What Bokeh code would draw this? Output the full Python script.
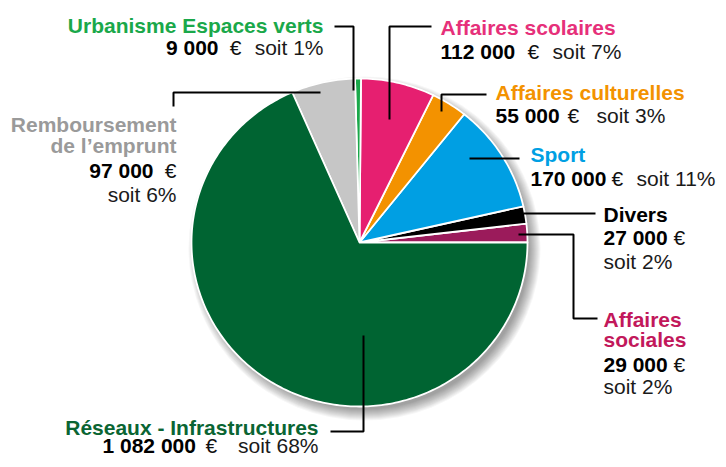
import numpy as np
from bokeh.plotting import figure
from bokeh.models import Range1d
from bokeh.core.properties import value
from bokeh.embed import file_html
from bokeh.resources import INLINE

# ---- data (counter-clockwise from 3 o'clock) ----
categories = ["Affaires sociales", "Divers", "Sport", "Affaires culturelles",
              "Affaires scolaires", "Urbanisme Espaces verts",
              "Remboursement de l’emprunt", "Réseaux - Infrastructures"]
amounts = [29000, 27000, 170000, 55000, 112000, 9000, 97000, 1082000]
shares = [2, 2, 11, 3, 7, 1, 6, 68]
slice_colors = ["#9b1b5b", "#000000", "#009fe3", "#f39200",
                "#e61f70", "#1aa84a", "#c6c6c6", "#006432"]
label_colors = ["#c2185b", "#000000", "#009fe3", "#f39200",
                "#e6307a", "#1aa84a", "#9a9a9a", "#0a6533"]
title_lines = [["Affaires", "sociales"], ["Divers"], ["Sport"], ["Affaires culturelles"],
               ["Affaires scolaires"], ["Urbanisme Espaces verts"],
               ["Remboursement", "de l’emprunt"], ["Réseaux - Infrastructures"]]

# ---- figure: data x = picture px, data y = H - picture py ----
W, H = 718, 459
p = figure(width=W, height=H, output_backend="svg", toolbar_location=None,
           x_range=Range1d(0, W), y_range=Range1d(0, H), min_border=0)
p.axis.visible = False
p.grid.visible = False
p.outline_line_color = None
p.background_fill_color = "white"


def Y(py):
    return H - py


cx, cy, rx, ry = 359, Y(242), 168, 164

# soft shadow
ks = np.arange(-3, 9)
p.ellipse(x=cx + 5, y=cy - 6, width=2 * (rx + ks), height=2 * (ry + ks),
          fill_color="black", fill_alpha=0.035, line_color=None)

# pie slices
vals = np.array(amounts, dtype=float)
edges = np.concatenate([[0], np.cumsum(vals) / vals.sum() * 2 * np.pi])
xs, ys = [], []
for a0, a1 in zip(edges[:-1], edges[1:]):
    t = np.linspace(a0, a1, max(4, int((a1 - a0) * 60)))
    xs.append(np.concatenate([[cx], cx + rx * np.cos(t)]).tolist())
    ys.append(np.concatenate([[cy], cy + ry * np.sin(t)]).tolist())
p.patches(xs, ys, fill_color=slice_colors, line_color="white", line_width=1.8,
          line_join="round")

# leader lines (layout, picture px)
leaders = [
    [(518, 234), (573, 234), (573, 318), (597, 318)],
    [(523, 213), (595, 213)],
    [(469, 158), (519, 158)],
    [(486, 94), (441, 94), (441, 111)],
    [(431, 26), (389, 26), (389, 119)],
    [(334, 26), (353, 26), (353, 90)],
    [(173, 106), (173, 92), (320, 92)],
    [(330, 431), (363, 431), (363, 335)],
]
p.multi_line([[q[0] for q in L] for L in leaders],
             [[Y(q[1]) for q in L] for L in leaders],
             line_color="black", line_width=2)

# label layout: title x/align/baselines, then (x, py, align) for number, euro, "soit"
lab = [
    (603, "left", [327, 347], (603, 372, "left"), (673, 372, "left"), (603, 394, "left")),
    (603, "left", [222], (603, 245, "left"), (673, 245, "left"), (603, 269, "left")),
    (530, "left", [162], (530, 186, "left"), (611, 186, "left"), (636, 186, "left")),
    (495, "left", [100], (495, 123, "left"), (567, 123, "left"), (596, 123, "left")),
    (440, "left", [35], (440, 59, "left"), (527, 59, "left"), (552, 59, "left")),
    (323, "right", [33], (218, 55, "right"), (241, 55, "right"), (323, 55, "right")),
    (176, "right", [132, 153], (153, 178, "right"), (176, 178, "right"), (176, 202, "right")),
    (318, "right", [435], (102, 453, "left"), (205, 453, "left"), (318, 453, "right")),
]

FONT = value("Liberation Sans")
SIZE = "21px"
TEXT_DY = 8  # renderer places alphabetic baseline ~8px low


def txt(x, py, s, color, style, align):
    p.text(x=[x], y=[Y(py - TEXT_DY)], text=[s], text_font=FONT, text_font_size=SIZE,
           text_font_style=style, text_color=color, text_align=align,
           text_baseline="alphabetic")


for i, (tx, talign, tys, num, eur, soit) in enumerate(lab):
    for line, py in zip(title_lines[i], tys):
        txt(tx, py, line, label_colors[i], "bold", talign)
    txt(num[0], num[1], f"{amounts[i]:,}".replace(",", " "), "black", "bold", num[2])
    txt(eur[0], eur[1], "€", "#111111", "normal", eur[2])
    txt(soit[0], soit[1], f"soit {shares[i]}%", "#1a1a1a", "normal", soit[2])

open("out.html", "w").write(file_html(p, INLINE))
